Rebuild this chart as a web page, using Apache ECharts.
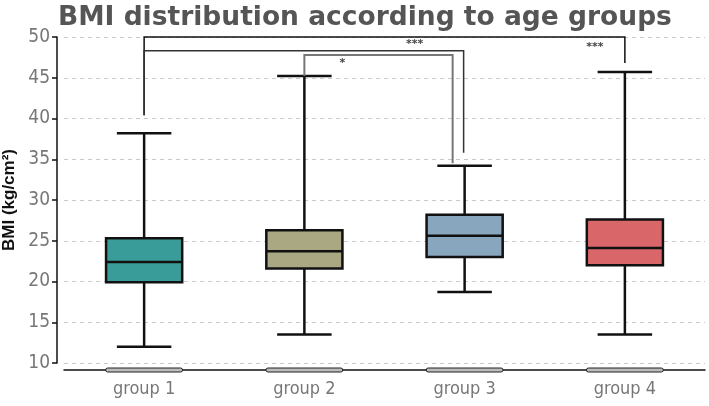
<!DOCTYPE html>
<html>
<head>
<meta charset="utf-8">
<script src="https://cdn.jsdelivr.net/npm/echarts@6/dist/echarts.min.js"></script>
<style>html,body{margin:0;padding:0;background:#fff}#c{width:709px;height:406px}</style>
</head>
<body>
<div id="c"></div>
<script>
// ---- data ----
const categories = ['group 1', 'group 2', 'group 3', 'group 4'];
// [lower whisker, Q1, median, Q3, upper whisker]
const boxStats = [
  [12.0, 19.9, 22.4, 25.3, 38.2],
  [13.5, 21.6, 23.7, 26.3, 45.2],
  [18.7, 23.0, 25.6, 28.2, 34.2],
  [13.5, 22.0, 24.1, 27.6, 45.7]
];
const boxColors = ['#3a9c99', '#a9a882', '#88a6be', '#d9676a'];
const yTicks = [10, 15, 20, 25, 30, 35, 40, 45, 50];
// brackets: [from group index, to group index, top level, left leg end, right leg end, label]
const brackets = [
  [0, 3, 50.0, 40.4, 46.8, '***'],
  [0, 2, 48.3, 40.4, 35.8, '***'],
  [1, 2, 47.8, 45.2, 34.5, '*']
];
// ---- styles for brackets (pixel offsets / look) ----
const bracketStyle = [
  {stroke: '#111', lw: 1.5, rightDx: 0, labelRef: 'right', labelDx: -30, labelDy: 10},
  {stroke: '#333', lw: 1.5, rightDx: -1, labelRef: 'right', labelDx: -49, labelDy: -7},
  {stroke: '#777', lw: 2, rightDx: -12, labelRef: 'left', labelDx: 38, labelDy: 8}
];

const chart = echarts.init(document.getElementById('c'), null, {renderer: 'canvas'});

function boxItem(params, api) {
  const i = api.value(0);
  const lo = api.coord([i, api.value(1)]);
  const q1 = api.coord([i, api.value(2)]);
  const med = api.coord([i, api.value(3)]);
  const q3 = api.coord([i, api.value(4)]);
  const hi = api.coord([i, api.value(5)]);
  const band = api.size([1, 0])[0];
  const bw = band * 0.475;
  const cw = band * 0.34;
  const cx = lo[0];
  const lineStyle = {stroke: '#111', lineWidth: 2.5};
  return {
    type: 'group',
    children: [
      {type: 'line', shape: {x1: cx, y1: lo[1], x2: cx, y2: q1[1]}, style: lineStyle},
      {type: 'line', shape: {x1: cx, y1: q3[1], x2: cx, y2: hi[1]}, style: lineStyle},
      {type: 'line', shape: {x1: cx - cw / 2, y1: lo[1], x2: cx + cw / 2, y2: lo[1]}, style: lineStyle},
      {type: 'line', shape: {x1: cx - cw / 2, y1: hi[1], x2: cx + cw / 2, y2: hi[1]}, style: lineStyle},
      {type: 'rect', shape: {x: cx - bw / 2, y: q3[1], width: bw, height: q1[1] - q3[1]},
        style: {fill: boxColors[params.dataIndex], stroke: '#111', lineWidth: 2.5}},
      {type: 'line', shape: {x1: cx - bw / 2, y1: med[1], x2: cx + bw / 2, y2: med[1]}, style: lineStyle}
    ]
  };
}

function capsuleItem(params, api) {
  const p = api.coord([api.value(0), yTicks[0]]);
  const band = api.size([1, 0])[0];
  const bw = band * 0.48;
  return {
    type: 'rect',
    shape: {x: p[0] - bw / 2, y: p[1] + 5, width: bw, height: 4, r: 2},
    style: {fill: '#bdbdbd', stroke: '#222', lineWidth: 1}
  };
}

function bracketItem(params, api) {
  const b = brackets[params.dataIndex];
  const s = bracketStyle[params.dataIndex];
  const topL = api.coord([b[0], b[2]]);
  const topR = api.coord([b[1], b[2]]);
  const endL = api.coord([b[0], b[3]]);
  const endR = api.coord([b[1], b[4]]);
  const xr = topR[0] + s.rightDx;
  const lx = (s.labelRef === 'right' ? xr : topL[0]) + s.labelDx;
  return {
    type: 'group',
    children: [
      {type: 'polyline', shape: {points: [[topL[0], endL[1]], [topL[0], topL[1]], [xr, topR[1]], [xr, endR[1]]]},
        style: {stroke: s.stroke, lineWidth: s.lw, fill: null}},
      {type: 'text', x: lx, y: topL[1] + s.labelDy,
        style: {text: b[5], fill: '#444', font: 'bold 11px "DejaVu Sans"', align: 'center', verticalAlign: 'middle'}}
    ]
  };
}

chart.setOption({
  animation: false,
  backgroundColor: '#fff',
  title: {
    text: 'BMI distribution according to age groups',
    left: 53,
    top: 0,
    textStyle: {fontFamily: 'DejaVu Sans', fontWeight: 'bold', fontSize: 26.5, color: '#555'}
  },
  grid: {left: 64, right: 4, top: 37, bottom: 43, outerBoundsMode: 'none', containLabel: false},
  xAxis: {
    type: 'category',
    data: categories,
    offset: 7,
    axisLine: {show: true, lineStyle: {color: '#111', width: 1.5}},
    axisTick: {show: false},
    axisLabel: {color: '#777', fontSize: 18, fontFamily: 'DejaVu Sans Condensed', margin: 10},
    splitLine: {show: false}
  },
  yAxis: {
    type: 'value',
    min: 10, max: 50, interval: 5,
    offset: 7,
    name: 'BMI (kg/cm²)',
    nameLocation: 'middle',
    nameRotate: 90,
    nameGap: 37,
    nameTextStyle: {fontFamily: 'Liberation Sans', fontWeight: 'bold', fontSize: 17, color: '#111'},
    axisLine: {show: true, lineStyle: {color: '#111', width: 1.5}},
    axisTick: {show: true, length: 5, lineStyle: {color: '#111', width: 1.5}},
    axisLabel: {color: '#777', fontSize: 19, fontFamily: 'DejaVu Sans Condensed', margin: 7,
      formatter: v => yTicks.indexOf(v) >= 0 ? String(v) : ''},
    splitLine: {show: true, lineStyle: {color: '#c8c8c8', type: [4, 4], width: 1}}
  },
  series: [
    {type: 'custom', name: 'capsules', renderItem: capsuleItem, clip: false, silent: true,
      data: categories.map((c, i) => [i]), z: 1},
    {type: 'custom', name: 'BMI', renderItem: boxItem, clip: false,
      encode: {x: 0, y: [1, 2, 3, 4, 5]},
      data: boxStats.map((s, i) => [i].concat(s)), z: 3},
    {type: 'custom', name: 'significance', renderItem: bracketItem, clip: false, silent: true,
      encode: {x: 0, y: 2},
      data: brackets.map(b => [b[0], b[1], b[2]]), z: 4}
  ]
});
</script>
</body>
</html>
